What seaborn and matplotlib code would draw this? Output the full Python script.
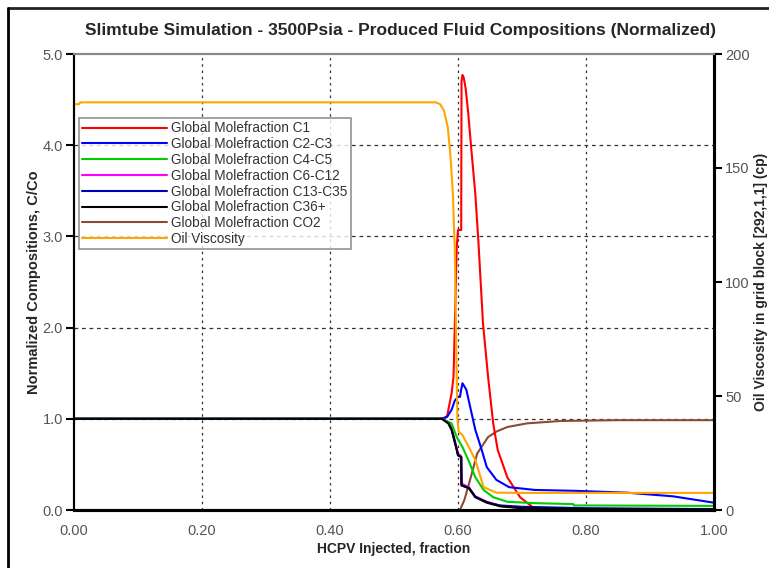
import numpy as np
import pandas as pd
import seaborn as sns
import matplotlib
matplotlib.use("Agg")
import matplotlib.pyplot as plt
from matplotlib.lines import Line2D

# ---------------- data ----------------
x_c1 = [0, 0.57, 0.578, 0.583, 0.59, 0.593, 0.596, 0.598, 0.6, 0.605, 0.6055, 0.607, 0.609,
        0.612, 0.616, 0.62, 0.627, 0.632, 0.639, 0.647, 0.655, 0.662, 0.677, 0.697, 0.717,
        0.74, 0.8, 1.0]
y_c1 = [1.0, 1.0, 1.01, 1.03, 1.28, 1.46, 2.3, 2.88, 3.07, 3.07, 4.7, 4.77, 4.74,
        4.62, 4.35, 4.02, 3.47, 2.93, 2.05, 1.46, 0.95, 0.66, 0.36, 0.14, 0.03,
        0.01, 0.0, 0.0]

x_c2c3 = [0, 0.575, 0.583, 0.59, 0.595, 0.6, 0.603, 0.605, 0.607, 0.613, 0.62, 0.627, 0.637,
          0.645, 0.66, 0.68, 0.72, 0.785, 0.864, 0.936, 1.0]
y_c2c3 = [1.0, 1.0, 1.02, 1.1, 1.2, 1.24, 1.24, 1.32, 1.39, 1.32, 1.1, 0.88, 0.66,
          0.47, 0.33, 0.25, 0.22, 0.21, 0.19, 0.15, 0.08]

x_c4c5 = [0, 0.575, 0.59, 0.598, 0.607, 0.616, 0.627, 0.64, 0.655, 0.677, 0.72, 0.78, 0.781, 1.0]
y_c4c5 = [1.0, 1.0, 0.95, 0.8, 0.69, 0.55, 0.36, 0.22, 0.14, 0.09, 0.075, 0.065, 0.05, 0.045]

x_c6c12 = [0, 0.575, 0.585, 0.59, 0.597, 0.6, 0.605, 0.6055, 0.617, 0.627, 0.645, 0.666, 0.7, 0.8, 1.0]
y_c6c12 = [1.0, 1.0, 0.96, 0.9, 0.71, 0.62, 0.59, 0.29, 0.25, 0.15, 0.09, 0.045, 0.02, 0.01, 0.005]

x_c13c35 = [0, 0.575, 0.585, 0.59, 0.597, 0.6, 0.605, 0.6055, 0.617, 0.627, 0.645, 0.666, 0.7, 0.8, 1.0]
y_c13c35 = [1.0, 1.0, 0.95, 0.88, 0.69, 0.6, 0.58, 0.27, 0.24, 0.145, 0.085, 0.05, 0.035, 0.02, 0.01]

x_c36 = [0, 0.575, 0.585, 0.59, 0.597, 0.6, 0.605, 0.6055, 0.617, 0.627, 0.645, 0.666, 0.7, 0.8, 1.0]
y_c36 = [1.0, 1.0, 0.95, 0.88, 0.69, 0.6, 0.58, 0.27, 0.24, 0.14, 0.08, 0.04, 0.02, 0.01, 0.005]

x_co2 = [0, 0.6, 0.603, 0.61, 0.62, 0.63, 0.647, 0.66, 0.677, 0.708, 0.76, 0.85, 1.0]
y_co2 = [0, 0, 0.0, 0.11, 0.36, 0.62, 0.8, 0.86, 0.91, 0.95, 0.976, 0.985, 0.985]

x_visc = [0, 0.008, 0.01, 0.565, 0.572, 0.578, 0.584, 0.588, 0.592, 0.595, 0.597, 0.599,
          0.601, 0.607, 0.614, 0.627, 0.64, 0.66, 0.7, 1.0]
y_visc = [178, 178, 178.8, 178.8, 178, 175.2, 168, 156, 138.8, 114, 76, 40,
          34.4, 32.8, 29.2, 22, 10, 7.6, 7.5, 7.5]

labels = ["Global Molefraction C1", "Global Molefraction C2-C3", "Global Molefraction C4-C5",
          "Global Molefraction C6-C12", "Global Molefraction C13-C35", "Global Molefraction C36+",
          "Global Molefraction CO2", "Oil Viscosity"]
colors = ["#ff0000", "#0000ff", "#00cc00", "#ff00ff", "#0000b4", "#000000", "#8b4a36", "#ffa500"]

x_ticks = [0.0, 0.2, 0.4, 0.6, 0.8, 1.0]
x_ticklabels = ["0.00", "0.20", "0.40", "0.60", "0.80", "1.00"]
y_ticks = [0.0, 1.0, 2.0, 3.0, 4.0, 5.0]
y_ticklabels = ["0.0", "1.0", "2.0", "3.0", "4.0", "5.0"]
y2_ticks = [0, 50, 100, 150, 200]

# ---------------- style ----------------
sns.set_style("white")
plt.rcParams["font.family"] = ["Liberation Sans", "DejaVu Sans"]

fig = plt.figure(figsize=(7.69, 5.68), dpi=100)
ax = fig.add_axes([74 / 769, 1 - 510 / 568, 640 / 769, 456 / 568])
ax2 = ax.twinx()

series = [(x_c1, y_c1), (x_c2c3, y_c2c3), (x_c4c5, y_c4c5), (x_c6c12, y_c6c12),
          (x_c13c35, y_c13c35), (x_c36, y_c36), (x_co2, y_co2)]
order = [6, 0, 1, 3, 4, 2, 5]  # draw order
for i in order:
    xs, ys = series[i]
    df = pd.DataFrame({"x": xs, "y": ys})
    sns.lineplot(data=df, x="x", y="y", ax=ax, color=colors[i], lw=1.5,
                 estimator=None, sort=False, legend=False, zorder=3 + order.index(i))

dfv = pd.DataFrame({"x": x_visc, "y": y_visc})
sns.lineplot(data=dfv, x="x", y="y", ax=ax2, color=colors[7], lw=1.5,
             estimator=None, sort=False, legend=False)

ax.set_xlim(0, 1)
ax.set_ylim(0, 5)
ax2.set_ylim(0, 200)

ax.set_xticks(x_ticks)
ax.set_xticklabels(x_ticklabels)
ax.set_yticks(y_ticks)
ax.set_yticklabels(y_ticklabels)
ax2.set_yticks(y2_ticks)
ax2.set_yticklabels([str(v) for v in y2_ticks])

tick_color = "#555555"
for a in (ax, ax2):
    for lab in a.get_xticklabels() + a.get_yticklabels():
        lab.set_fontsize(10.5)
        lab.set_color(tick_color)
ax.tick_params(axis="both", direction="out", length=6, width=1.5, color="black", pad=2)
ax.tick_params(axis="x", pad=4)
ax2.tick_params(axis="y", direction="out", length=6, width=1.5, color="black", pad=2)

# grid
for xv in [0.2, 0.4, 0.6, 0.8]:
    ax.axvline(xv, color="#333333", lw=0.9, ls=(0, (2, 3)), zorder=1)
for yv in [1.0, 2.0, 3.0, 4.0]:
    ax.axhline(yv, color="#333333", lw=0.9, ls=(0, (3, 3)), zorder=1)

# spines
for a in (ax, ax2):
    a.spines["top"].set_color("#888888")
    a.spines["top"].set_linewidth(1.5)
    a.spines["left"].set_color("black")
    a.spines["left"].set_linewidth(1.5)
    a.spines["bottom"].set_color("black")
    a.spines["bottom"].set_linewidth(2.2)
    a.spines["right"].set_color("black")
    a.spines["right"].set_linewidth(2.2)

ax.set_xlabel("HCPV Injected, fraction", fontsize=10, fontweight="bold", labelpad=3)
ax.set_ylabel("Normalized Compositions, C/Co", fontsize=10.5, fontweight="bold", labelpad=1)
ax2.set_ylabel("Oil Viscosity in grid block [292,1,1] (cp)", fontsize=10, fontweight="bold", labelpad=3)

fig.text(400 / 769, 1 - 31 / 568,
         "Slimtube Simulation - 3500Psia - Produced Fluid Compositions (Normalized)",
         ha="center", va="center", fontsize=12.5, fontweight="bold")

# legend
handles = [Line2D([0], [0], color=c, lw=1.5) for c in colors]
leg = ax2.legend(handles, labels, loc="upper left", bbox_to_anchor=(0.0078, 0.8596),
                 fontsize=9.8, frameon=True, fancybox=False, handlelength=6.2,
                 handletextpad=0.3, labelspacing=0.13, borderpad=0.25, borderaxespad=0)
leg.get_frame().set_edgecolor("#777777")
leg.get_frame().set_linewidth(1.2)
for t in leg.get_texts():
    t.set_color("#333333")

# figure border (top and left only are visible)
fig.add_artist(Line2D([8 / 769, 1.0], [1 - 8 / 568, 1 - 8 / 568], color="#222222", lw=2,
                      transform=fig.transFigure))
fig.add_artist(Line2D([8 / 769, 8 / 769], [0.0, 1 - 8 / 568], color="black", lw=2,
                      transform=fig.transFigure))

fig.savefig("out.png", dpi=100, facecolor="white")
